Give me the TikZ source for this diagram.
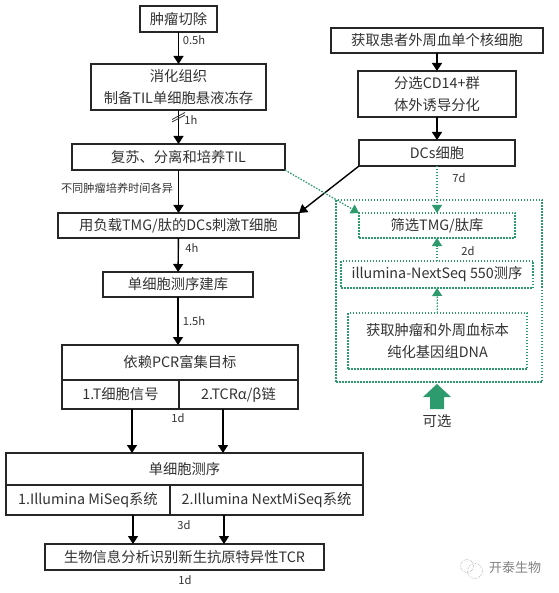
\documentclass[tikz,border=0pt]{standalone}
\usepackage{fontspec}
\setmainfont{Noto Sans CJK SC}
\usetikzlibrary{arrows.meta}
\definecolor{txtgray}{RGB}{50,50,50}
\definecolor{optgreen}{RGB}{46,155,110}
\tikzset{
  box/.style={draw=black!85, line width=1.4pt, inner sep=0pt, outer sep=0pt, align=center,
    text=txtgray, font=\fontsize{14.3}{22}\selectfont},
  optbox/.style={box, draw=optgreen, line width=1.3pt, dash pattern=on 1.5pt off 1.5pt},
  lbl/.style={text=txtgray, inner sep=0pt, font=\fontsize{11.2}{13}\selectfont},
  arr/.style={line width=1.4pt, black, -{Triangle[width=10pt,length=8pt]}},
  optarr/.style={line width=1.3pt, optgreen, dash pattern=on 1.5pt off 1.5pt, -{Triangle[width=10pt,length=8pt]}},
}
\begin{document}
\begin{tikzpicture}[x=1pt,y=-1pt]
  \useasboundingbox (0,0) rectangle (558,593);
  % left column
  \node[box, minimum width=77pt, minimum height=26pt] (cut) at (178.5,19) {肿瘤切除};
  \node[box, minimum width=175pt, minimum height=46pt] (digest) at (178.5,87) {消化组织\\制备TIL单细胞悬液冻存};
  \node[box, minimum width=213pt, minimum height=26pt] (culture) at (178.5,157) {复苏、分离和培养TIL};
  \node[box, minimum width=241pt, minimum height=25pt] (stim) at (178.5,225.5) {用负载TMG/肽的DCs刺激T细胞};
  \node[box, minimum width=150pt, minimum height=25pt] (lib) at (178,284.5) {单细胞测序建库};
  \node[box, minimum width=236pt, minimum height=35pt] (pcr) at (180,362.5) {依赖PCR富集目标};
  \node[box, minimum width=117pt, minimum height=29pt] (pcra) at (120.5,394.5) {1.T细胞信号};
  \node[box, minimum width=119pt, minimum height=29pt] (pcrb) at (238.5,394.5) {2.TCRα/β链};
  \node[box, minimum width=357pt, minimum height=32pt] (seq) at (184.5,469) {单细胞测序};
  \node[box, minimum width=164pt, minimum height=30pt] (seqa) at (88,500) {1.Illumina MiSeq系统};
  \node[box, minimum width=193pt, minimum height=30pt] (seqb) at (266.5,500) {2.Illumina NextMiSeq系统};
  \node[box, minimum width=279pt, minimum height=26pt] (bio) at (184.5,557) {生物信息分析识别新生抗原特异性TCR};
  % right column
  \node[box, minimum width=212pt, minimum height=25pt] (pbmc) at (437,40.5) {获取患者外周血单个核细胞};
  \node[box, minimum width=158pt, minimum height=46pt] (sort) at (437,94) {分选CD14+群\\体外诱导分化};
  \node[box, minimum width=156pt, minimum height=26pt] (dcs) at (437,153) {DCs细胞};
  % optional part
  \node[optbox, minimum width=206pt, minimum height=182pt] (opt) at (439,291) {};
  \node[optbox, minimum width=156pt, minimum height=25pt] (screen) at (437,225.5) {筛选TMG/肽库};
  \node[optbox, minimum width=192pt, minimum height=27pt] (next) at (437,274.5) {illumina-NextSeq 550测序};
  \node[optbox, minimum width=179pt, minimum height=56pt] (dna) at (437.5,341) {获取肿瘤和外周血标本\\纯化基因组DNA};
  % connectors
  \draw[arr] (cut) -- (digest);
  \draw[arr] (digest) -- (culture);
  \draw[arr] (culture) -- (stim);
  \draw[arr] (stim) -- (lib);
  \draw[arr] (lib) -- (lib |- pcr.north);
  \draw[arr] ([xshift=11.5pt]pcra.south) -- ([xshift=11.5pt]pcra.south |- seq.north);
  \draw[arr] ([xshift=-15.5pt]pcrb.south) -- ([xshift=-15.5pt]pcrb.south |- seq.north);
  \draw[arr] ([xshift=45pt]seqa.south) -- ([xshift=45pt]seqa.south |- bio.north);
  \draw[arr] ([xshift=-42.5pt]seqb.south) -- ([xshift=-42.5pt]seqb.south |- bio.north);
  \draw[arr] (pbmc) -- (sort);
  \draw[arr] (sort) -- (dcs);
  \draw[arr] (dcs.south west) -- (stim.north east);
  \draw[optarr] (culture.south east) -- (screen.north west);
  \draw[optarr] (dcs) -- (screen);
  \draw[optarr] (next) -- (screen);
  \draw[optarr] (dna) -- (next);
  % break mark
  \draw[line width=0.8pt, black!80] (172,119.5) -- (185,112.5);
  \draw[line width=0.8pt, black!80] (172,122) -- (185,115);
  % time labels
  \node[lbl] (t1) at (194,40) {0.5h};
  \node[lbl] (t2) at (191,120.5) {1h};
  \node[lbl] (t3) at (117,188.5) {不同肿瘤培养时间各异};
  \node[lbl] (t4) at (192,248) {4h};
  \node[lbl] (t5) at (194,321) {1.5h};
  \node[lbl] (t6) at (178,418) {1d};
  \node[lbl] (t7) at (184,525) {3d};
  \node[lbl] (t8) at (185,580) {1d};
  \node[lbl] (t9) at (459,178) {7d};
  \node[lbl] (t10) at (468,251) {2d};
  % big arrow
  \fill[optgreen] (437,384) -- (451,397) -- (444,397) -- (444,409) -- (430,409) -- (430,397) -- (423,397) -- cycle;
  \node[box, draw=none] (pick) at (437,421) {可选};
  % mark in the corner
  \draw[black!35, line width=0.6pt, densely dotted] (467,566) circle (6.5);
  \draw[black!35, line width=0.6pt, densely dotted] (475,571) circle (7.5);
  \node[text=black!50, inner sep=0pt, font=\fontsize{13}{15}\selectfont] (brand) at (515,568) {开泰生物};
\end{tikzpicture}
\end{document}
